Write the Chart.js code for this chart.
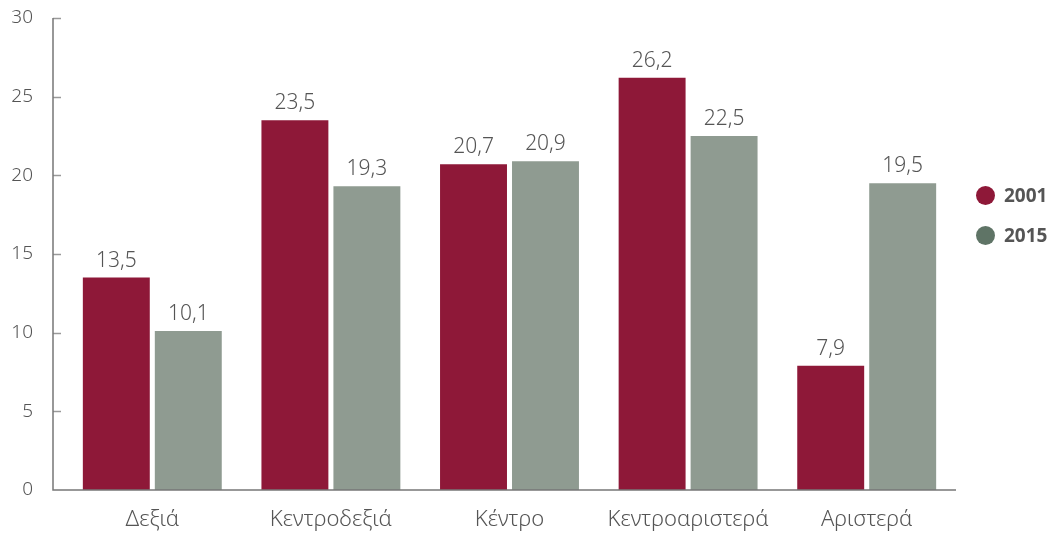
<!DOCTYPE html>
<html>
<head>
<meta charset="utf-8">
<script src="https://cdn.jsdelivr.net/npm/chart.js@4/dist/chart.umd.min.js"></script>
<style>
  html, body { margin: 0; padding: 0; background: #fff; }
  .wrap { position: relative; width: 1058px; height: 536px; }
  .legend { position: absolute; left: 976px; top: 182px; font-family: "Noto Sans", sans-serif; font-weight: bold; font-size: 19px; color: #555; }
  .legend div { height: 40px; line-height: 26px; white-space: nowrap; }
  .legend span { display: inline-block; width: 19px; height: 19px; border-radius: 50%; vertical-align: -3px; margin-right: 9px; }
</style>
</head>
<body>
<div class="wrap">
  <canvas id="chart" width="1058" height="536"></canvas>
  <div class="legend" id="legend"></div>
</div>
<script>
var categories = ["Δεξιά", "Κεντροδεξιά", "Κέντρο", "Κεντροαριστερά", "Αριστερά"];
var values2001 = [13.5, 23.5, 20.7, 26.2, 7.9];
var values2015 = [10.1, 19.3, 20.9, 22.5, 19.5];
var seriesNames = ["2001", "2015"];
var barColors = ["#8e1838", "#8f9b91"];
var legendColors = ["#8e1838", "#5f7466"];

var font = "Noto Sans";

// axes drawn a bit left of the bars like in the original
var axesPlugin = {
	id: 'axesLines',
	afterDraw: function(chart) {
		var ctx = chart.ctx, a = chart.chartArea, y = chart.scales.y;
		var x0 = a.left - 10;
		ctx.save();
		ctx.strokeStyle = '#999';
		ctx.lineWidth = 1.5;
		y.ticks.forEach(function(t) {
			var py = Math.round(y.getPixelForValue(t.value)) + 0.5;
			if (t.value === 0) return;
			ctx.beginPath(); ctx.moveTo(x0, py); ctx.lineTo(x0 + 8, py); ctx.stroke();
		});
		ctx.strokeStyle = '#777';
		ctx.beginPath();
		ctx.moveTo(x0, y.getPixelForValue(y.max));
		ctx.lineTo(x0, a.bottom);
		ctx.lineTo(a.right, a.bottom);
		ctx.stroke();
		ctx.restore();
	}
};

var valueLabels = {
	id: 'valueLabels',
	afterDatasetsDraw: function(chart) {
		var ctx = chart.ctx;
		ctx.save();
		ctx.font = '300 21px "' + font + '"';
		ctx.fillStyle = '#555';
		ctx.textAlign = 'center';
		ctx.textBaseline = 'alphabetic';
		chart.data.datasets.forEach(function(ds, i) {
			chart.getDatasetMeta(i).data.forEach(function(bar, j) {
				ctx.fillText(String(ds.data[j]).replace('.', ','), bar.x, bar.y - 11);
			});
		});
		ctx.restore();
	}
};

var ctx = document.getElementById('chart').getContext('2d');
new Chart(ctx, {
	type: 'bar',
	data: {
		labels: categories,
		datasets: [
			{ label: seriesNames[0], data: values2001, backgroundColor: barColors[0] },
			{ label: seriesNames[1], data: values2015, backgroundColor: barColors[1] }
		]
	},
	options: {
		responsive: false,
		animation: false,
		layout: { padding: { top: 18, right: 102, bottom: 0, left: 0 } },
		categoryPercentage: 0.806,
		barPercentage: 0.93,
		plugins: { legend: { display: false }, tooltip: { enabled: false } },
		scales: {
			x: {
				grid: { display: false, drawTicks: false },
				border: { display: false },
				ticks: { color: '#555', font: { family: font, size: 22, weight: 300 }, padding: 17 },
				afterFit: function(s) { s.height = 46; }
			},
			y: {
				min: 0, max: 30,
				grid: { display: false, drawTicks: false },
				border: { display: false },
				ticks: { stepSize: 5, color: '#555', font: { family: font, size: 19, weight: 300 }, padding: 30 },
				afterFit: function(s) { s.width = 63; s.paddingTop = 0; s.paddingBottom = 0; }
			}
		}
	},
	plugins: [axesPlugin, valueLabels]
});

var lg = document.getElementById('legend');
seriesNames.forEach(function(n, i) {
	lg.innerHTML += '<div><span style="background:' + legendColors[i] + '"></span>' + n + '</div>';
});
</script>
</body>
</html>
